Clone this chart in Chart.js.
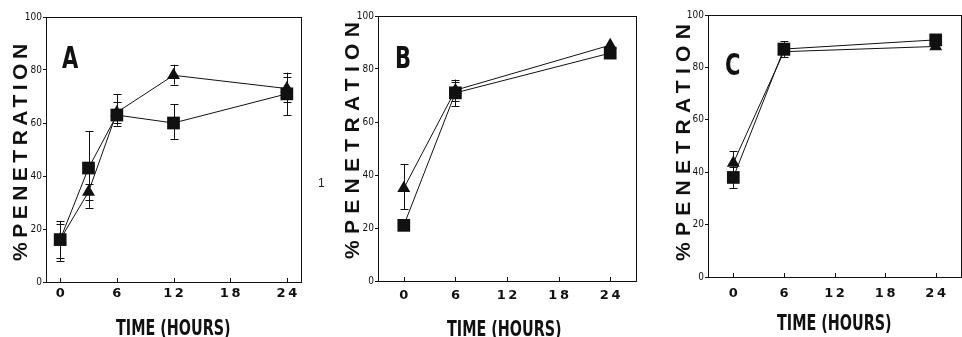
<!DOCTYPE html>
<html>
<head>
<meta charset="utf-8">
<script src="https://cdn.jsdelivr.net/npm/chart.js@4.4.1/dist/chart.umd.min.js"></script>
<style>
  html, body { margin: 0; padding: 0; background: #fff; }
  body { width: 962px; height: 337px; position: relative; overflow: hidden; }
  canvas { position: absolute; }
  .ytitle {
    position: absolute; font-family: "Liberation Sans", Arial, sans-serif; font-weight: bold;
    font-size: 21px; letter-spacing: 4.5px; color: #111; white-space: nowrap;
    transform-origin: 0 0; transform: rotate(-90deg);
  }
  .ytitle.wide { letter-spacing: 6.3px; }
  .xtitle {
    position: absolute; font-family: "Liberation Sans Narrow", "DejaVu Sans Condensed", sans-serif;
    font-weight: bold; font-size: 21px; color: #111; white-space: nowrap;
    transform-origin: 0 0; transform: scaleX(0.76);
  }
  .stray { position: absolute; font-family: "Liberation Sans", sans-serif; font-size: 12px; color: #222; }
</style>
</head>
<body>
<canvas id="cA" width="310" height="337" style="left:0;top:0"></canvas>
<canvas id="cB" width="316" height="337" style="left:330px;top:0"></canvas>
<canvas id="cC" width="310" height="337" style="left:660px;top:0"></canvas>

<div class="ytitle" style="left:8px;top:261px">%PENETRATION</div>
<div class="ytitle wide" style="left:340px;top:259px">%PENETRATION</div>
<div class="ytitle wide" style="left:671px;top:261px">%PENETRATION</div>

<div class="xtitle" style="left:116px;top:316px">TIME (HOURS)</div>
<div class="xtitle" style="left:447px;top:317px">TIME (HOURS)</div>
<div class="xtitle" style="left:777px;top:311px">TIME (HOURS)</div>

<div class="stray" style="left:318px;top:176px">1</div>

<script>
// Sampling times (hours) and tick labels
const timesA = [0, 3, 6, 12, 24];
const timesBC = [0, 6, 24];
const xTickValues = [0, 6, 12, 18, 24];
const yTickValues = [0, 20, 40, 60, 80, 100];

// Panel A: % penetration, triangles and squares, with error bar limits
const triA = [16, 34, 64, 78, 73];
const triALow = [9, 28, 59, 74.5, 68];
const triAHigh = [23, 37, 71, 82, 79];
const sqA = [16, 43, 63, 60, 71];
const sqALow = [8, 31, 60, 54, 63];
const sqAHigh = [22, 57, 68, 67, 77.5];

// Panel B
const triB = [35, 72, 89];
const triBLow = [27, 68, null];
const triBHigh = [44, 75, null];
const sqB = [21, 71, 86];
const sqBLow = [null, 66, null];
const sqBHigh = [null, 76, null];

// Panel C
const triC = [43.5, 86, 88];
const triCLow = [38, null, null];
const triCHigh = [48, null, null];
const sqC = [38, 87, 90.5];
const sqCLow = [34, 84, null];
const sqCHigh = [42, 90, null];

const pts = (xs, ys) => xs.map((x, i) => ({ x: x, y: ys[i] }));

// Frame, inward x ticks, error bars and panel letter
const decorations = {
  id: 'decorations',
  afterDatasetsDraw(chart, args, opts) {
    const ctx = chart.ctx;
    const a = chart.chartArea;
    const xs = chart.scales.x, ys = chart.scales.y;
    ctx.save();
    ctx.strokeStyle = '#111';
    ctx.lineWidth = 1;
    ctx.strokeRect(Math.round(a.left) + 0.5, Math.round(a.top) + 0.5,
                   Math.round(a.right - a.left), Math.round(a.bottom - a.top));
    // inward x ticks
    ctx.beginPath();
    xTickValues.forEach(v => {
      const px = Math.round(xs.getPixelForValue(v)) + 0.5;
      ctx.moveTo(px, a.bottom);
      ctx.lineTo(px, a.bottom - 4);
    });
    ctx.stroke();
    // error bars
    (opts.errors || []).forEach(e => {
      e.xs.forEach((x, i) => {
        if (e.low[i] == null) return;
        const px = Math.round(xs.getPixelForValue(x)) + 0.5;
        const yl = ys.getPixelForValue(e.low[i]);
        const yh = ys.getPixelForValue(e.high[i]);
        ctx.beginPath();
        ctx.moveTo(px, yl); ctx.lineTo(px, yh);
        ctx.moveTo(px - 4, Math.round(yl) + 0.5); ctx.lineTo(px + 4, Math.round(yl) + 0.5);
        ctx.moveTo(px - 4, Math.round(yh) + 0.5); ctx.lineTo(px + 4, Math.round(yh) + 0.5);
        ctx.stroke();
      });
    });
    // panel letter, condensed
    if (opts.letter) {
      ctx.fillStyle = '#111';
      ctx.font = 'bold 30px "Liberation Sans Narrow", "DejaVu Sans Condensed", sans-serif';
      ctx.textBaseline = 'alphabetic';
      ctx.translate(a.left + opts.letterDx, a.top + opts.letterDy);
      ctx.scale(0.78, 1);
      ctx.fillText(opts.letter, 0, 0);
    }
    ctx.restore();
  }
};

function makePanel(id, cfg) {
  return new Chart(document.getElementById(id), {
    type: 'line',
    data: {
      datasets: [
        {
          label: 'triangle', data: pts(cfg.xs, cfg.tri),
          borderColor: '#111', borderWidth: 1, backgroundColor: '#111',
          pointStyle: 'triangle', pointRadius: 7.5, pointBorderWidth: 0, tension: 0
        },
        {
          label: 'square', data: pts(cfg.xs, cfg.sq),
          borderColor: '#111', borderWidth: 1, backgroundColor: '#111',
          pointStyle: 'rect', pointRadius: 9, pointBorderWidth: 0, tension: 0
        }
      ]
    },
    plugins: [decorations],
    options: {
      responsive: false,
      animation: false,
      layout: { padding: { top: cfg.top, right: cfg.right, left: 0, bottom: 0 } },
      plugins: {
        legend: { display: false },
        tooltip: { enabled: false },
        decorations: {
          letter: cfg.letter, letterDx: cfg.letterDx, letterDy: cfg.letterDy,
          errors: [
            { xs: cfg.xs, low: cfg.triLow, high: cfg.triHigh },
            { xs: cfg.xs, low: cfg.sqLow, high: cfg.sqHigh }
          ]
        }
      },
      scales: {
        x: {
          type: 'linear', min: cfg.xmin, max: cfg.xmax,
          afterBuildTicks: s => { s.ticks = xTickValues.map(v => ({ value: v })); },
          afterFit: s => { s.height = cfg.xAxisH; },
          grid: { display: false, drawTicks: false },
          border: { display: false },
          ticks: {
            color: '#111', padding: cfg.xPad, maxRotation: 0, autoSkip: false,
            font: { family: '"DejaVu Sans", sans-serif', weight: 'bold', size: 13 },
            callback: v => String(v).split('').join('\u2009')
          }
        },
        y: {
          min: 0, max: 100,
          afterBuildTicks: s => { s.ticks = yTickValues.map(v => ({ value: v })); },
          afterFit: s => { s.width = cfg.yAxisW; },
          grid: { drawOnChartArea: false, drawTicks: true, tickLength: 3, color: '#111' },
          border: { display: false },
          ticks: {
            color: '#111', padding: 1,
            font: { family: '"Liberation Sans Narrow", "DejaVu Sans Condensed", sans-serif', size: 10 }
          }
        }
      }
    }
  });
}

makePanel('cA', {
  xs: timesA, tri: triA, triLow: triALow, triHigh: triAHigh,
  sq: sqA, sqLow: sqALow, sqHigh: sqAHigh,
  xmin: -1.5, xmax: 25.5, top: 17, right: 8, yAxisW: 46, xAxisH: 55, xPad: 4,
  letter: 'A', letterDx: 16, letterDy: 51
});
makePanel('cB', {
  xs: timesBC, tri: triB, triLow: triBLow, triHigh: triBHigh,
  sq: sqB, sqLow: sqBLow, sqHigh: sqBHigh,
  xmin: -3, xmax: 27, top: 16, right: 10, yAxisW: 48, xAxisH: 56, xPad: 7,
  letter: 'B', letterDx: 17, letterDy: 52
});
makePanel('cC', {
  xs: timesBC, tri: triC, triLow: triCLow, triHigh: triCHigh,
  sq: sqC, sqLow: sqCLow, sqHigh: sqCHigh,
  xmin: -3, xmax: 27, top: 15, right: 7, yAxisW: 48, xAxisH: 60, xPad: 9,
  letter: 'C', letterDx: 17, letterDy: 60
});
</script>
</body>
</html>
